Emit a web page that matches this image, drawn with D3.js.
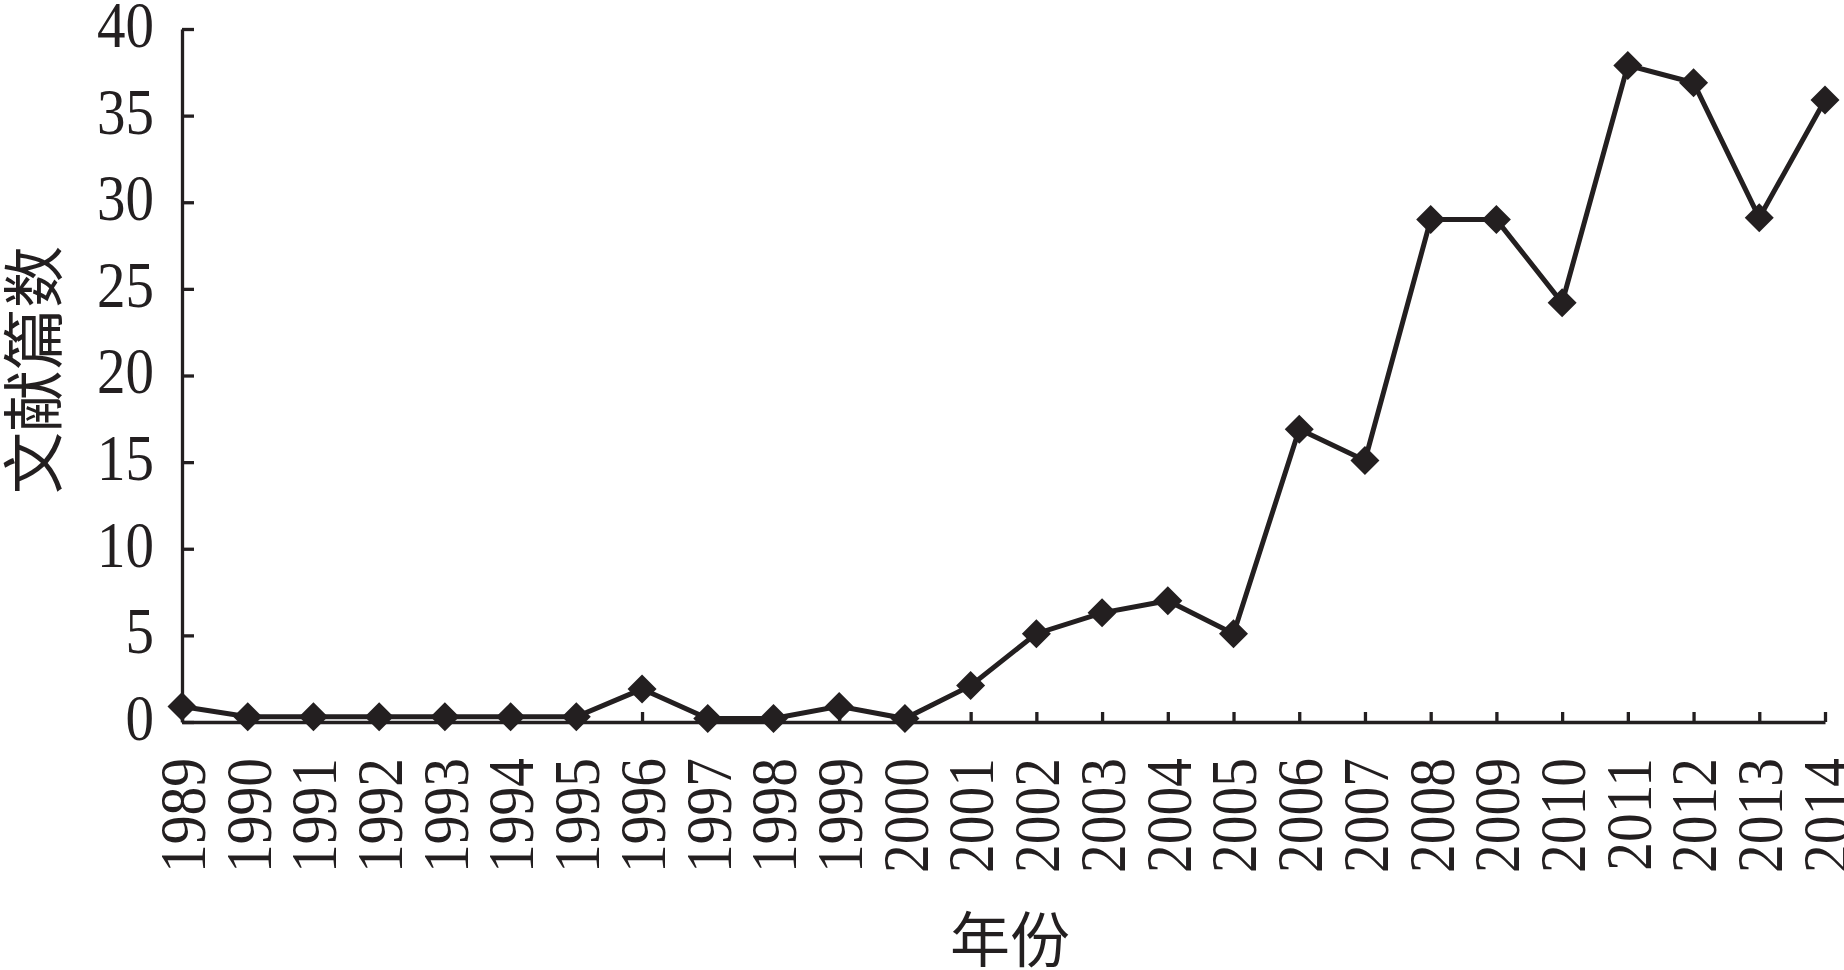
<!DOCTYPE html>
<html>
<head>
<meta charset="utf-8">
<script src="https://cdn.jsdelivr.net/npm/d3@7/dist/d3.min.js"></script>
<style>
  html, body { margin: 0; padding: 0; background: #fff; }
  svg { display: block; }
</style>
</head>
<body>
<svg id="chart" width="1844" height="970"></svg>
<script>
// ---- data ----
const years = ["1989","1990","1991","1992","1993","1994","1995","1996","1997","1998","1999","2000","2001","2002","2003","2004","2005","2006","2007","2008","2009","2010","2011","2012","2013","2014"];
const counts = [0.9,0.3,0.3,0.3,0.3,0.3,0.3,1.9,0.2,0.2,0.9,0.2,2.1,5.1,6.3,7.0,5.1,16.9,15.1,29.0,29.0,24.2,37.9,36.9,29.1,35.9];
const yTicks = [0,5,10,15,20,25,30,35,40];
const xTitle = "年份";
const yTitle = "文献篇数";

const ink = "#231f20";
const svg = d3.select("#chart");

const x = d3.scalePoint().domain(years).range([182, 1825]).padding(0);
const y = d3.scaleLinear().domain([0, 40]).range([722, 29]);

// axes
const yAxis = d3.axisLeft(y).tickValues(yTicks).tickSize(-12).tickSizeOuter(0).tickPadding(28);
const gy = svg.append("g").attr("transform", "translate(182,0)").call(yAxis);
gy.select(".domain").attr("stroke", ink).attr("stroke-width", 3.3);
gy.selectAll(".tick line").attr("stroke", ink).attr("stroke-width", 3.3);
gy.selectAll(".tick text")
  .attr("x", null).attr("dy", null)
  .attr("fill", ink)
  .attr("font-family", "'Liberation Serif','Times New Roman',serif")
  .attr("font-size", 57)
  .attr("text-anchor", "end")
  .attr("dominant-baseline", "central")
  .attr("transform", "translate(-28,-5) scale(1,1.16)");

const xAxis = d3.axisBottom(x).tickSize(-10).tickSizeOuter(0);
const gx = svg.append("g").attr("transform", "translate(0,722)").call(xAxis);
gx.select(".domain").attr("stroke", ink).attr("stroke-width", 3.3);
gx.selectAll(".tick line").attr("stroke", ink).attr("stroke-width", 3.3);
gx.selectAll(".tick text")
  .attr("y", null).attr("dy", null)
  .attr("fill", ink)
  .attr("font-family", "'Liberation Serif','Times New Roman',serif")
  .attr("font-size", 57.5)
  .attr("text-anchor", "end")
  .attr("dominant-baseline", "central")
  .attr("transform", "translate(0,36) rotate(-90) scale(1,1.14)");

// line
const line = d3.line().x((d, i) => x(years[i])).y(d => y(d));
svg.append("path")
  .datum(counts)
  .attr("fill", "none")
  .attr("stroke", ink)
  .attr("stroke-width", 5)
  .attr("stroke-linejoin", "miter")
  .attr("d", line);

// diamond markers
const r = 14.5;
svg.append("g").selectAll("path")
  .data(counts)
  .join("path")
  .attr("fill", ink)
  .attr("d", (d, i) => {
    const cx = x(years[i]), cy = y(d);
    return `M${cx},${cy - r}L${cx + r},${cy}L${cx},${cy + r}L${cx - r},${cy}Z`;
  });

// titles
svg.append("text")
  .attr("x", 1010).attr("y", 962)
  .attr("text-anchor", "middle")
  .attr("font-family", "'Noto Sans CJK SC', sans-serif")
  .attr("font-size", 60)
  .attr("fill", ink)
  .text(xTitle);

svg.append("text")
  .attr("transform", "translate(30,370) rotate(-90)")
  .attr("text-anchor", "middle")
  .attr("dominant-baseline", "central")
  .attr("font-family", "'Noto Sans CJK SC', sans-serif")
  .attr("font-size", 62)
  .attr("fill", ink)
  .text(yTitle);
</script>
</body>
</html>
